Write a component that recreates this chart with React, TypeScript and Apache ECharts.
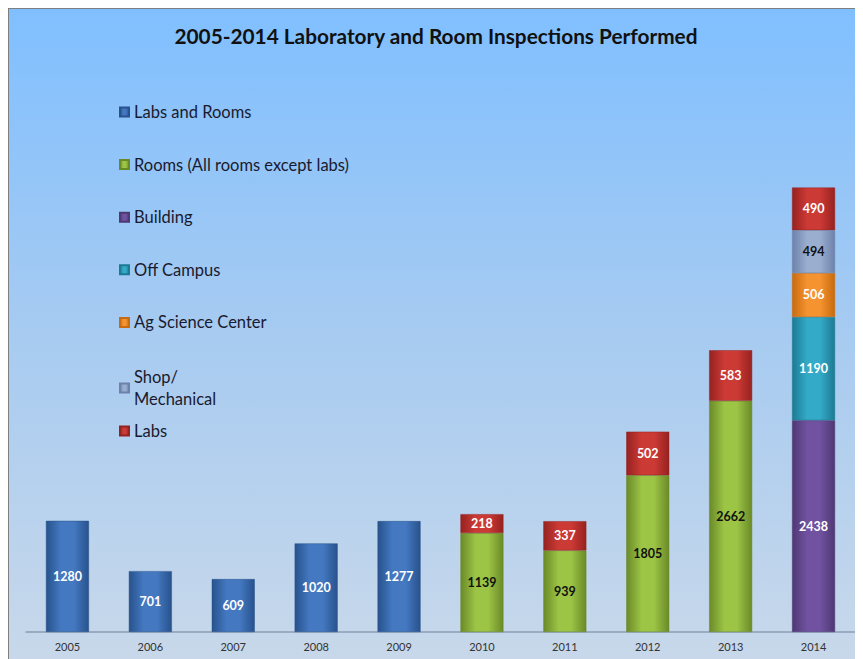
import React, { useEffect, useRef } from "react";
import * as echarts from "echarts";

const years = ["2005", "2006", "2007", "2008", "2009", "2010", "2011", "2012", "2013", "2014"];
const labsAndRooms = [1280, 701, 609, 1020, 1277, null, null, null, null, null];
const rooms = [null, null, null, null, null, 1139, 939, 1805, 2662, null];
const building = [null, null, null, null, null, null, null, null, null, 2438];
const offCampus = [null, null, null, null, null, null, null, null, null, 1190];
const agScience = [null, null, null, null, null, null, null, null, null, 506];
const shopMech = [null, null, null, null, null, null, null, null, null, 494];
const labs = [null, null, null, null, null, 218, 337, 502, 583, 490];

const seriesDefs = [
  { name: "Labs and Rooms", data: labsAndRooms, edge: "#28528c", mid: "#4479c2", text: "#ffffff" },
  { name: "Rooms (All rooms except labs)", data: rooms, edge: "#6a8a28", mid: "#9cc445", text: "#111111" },
  { name: "Building", data: building, edge: "#4f3874", mid: "#7052a0", text: "#ffffff" },
  { name: "Off Campus", data: offCampus, edge: "#1d7a93", mid: "#33abc8", text: "#ffffff" },
  { name: "Ag Science Center", data: agScience, edge: "#c86a0e", mid: "#f59330", text: "#ffffff" },
  { name: "Shop/ Mechanical", data: shopMech, edge: "#6d82aa", mid: "#9aaed0", text: "#111111" },
  { name: "Labs", data: labs, edge: "#962220", mid: "#cc3a35", text: "#ffffff" },
];

export default function App() {
  const ref = useRef<HTMLDivElement>(null);
  useEffect(() => {
    if (!ref.current) return;
    const chart = echarts.init(ref.current, undefined, { renderer: "svg" });
    const grad = (edge: string, mid: string) =>
      new echarts.graphic.LinearGradient(0, 0, 1, 0, [
        { offset: 0, color: edge },
        { offset: 0.35, color: mid },
        { offset: 0.65, color: mid },
        { offset: 1, color: edge },
      ]);
    const legendCommon = {
      orient: "vertical" as const,
      left: 105,
      itemWidth: 9,
      itemHeight: 9,
      icon: "rect",
      textStyle: { fontFamily: "Lato", fontSize: 16.5, color: "#1a1a2e", lineHeight: 22 },
    };
    chart.setOption({
      animation: false,
      backgroundColor: new echarts.graphic.LinearGradient(0, 0, 0, 1, [
        { offset: 0, color: "#80bfff" },
        { offset: 0.5, color: "#a7cbf1" },
        { offset: 1, color: "#c8d8ea" },
      ]),
      title: {
        text: "2005-2014 Laboratory and Room Inspections Performed",
        left: "center",
        top: 11,
        textStyle: { fontFamily: "Lato", fontSize: 20.8, fontWeight: "bold", color: "#111111" },
      },
      legend: [
        { ...legendCommon, top: 87, itemGap: 30.6, data: seriesDefs.slice(0, 5).map((s) => s.name) },
        {
          ...legendCommon,
          top: 352,
          data: [seriesDefs[5].name],
          formatter: (n: string) => n.replace(" ", "\n"),
        },
        { ...legendCommon, top: 406, data: [seriesDefs[6].name] },
      ],
      grid: { left: 17, right: 8, top: 102, bottom: 27 },
      xAxis: {
        type: "category",
        data: years,
        axisLine: { lineStyle: { color: "#8c9db3", width: 1.5 } },
        axisTick: { show: false },
        axisLabel: { fontFamily: "Lato", fontSize: 11, color: "#333333", margin: 9 },
      },
      yAxis: { type: "value", min: 0, max: 6000, show: false, splitLine: { show: false } },
      series: seriesDefs.map((s) => ({
        name: s.name,
        type: "bar",
        stack: "total",
        barWidth: 43,
        data: s.data,
        itemStyle: {
          color: grad(s.edge, s.mid),
          borderColor: s.edge,
          borderWidth: 0.5,
        },
        label: {
          show: true,
          position: "inside",
          fontFamily: "Lato",
          fontWeight: "bold",
          fontSize: 12.5,
          color: s.text,
        },
      })),
    });
    return () => chart.dispose();
  }, []);
  return (
    <div style={{ width: 854, height: 650, borderLeft: "1px solid #7f7f7f", borderTop: "1px solid #7f7f7f" }}>
      <div ref={ref} style={{ width: 854, height: 650 }} />
    </div>
  );
}
